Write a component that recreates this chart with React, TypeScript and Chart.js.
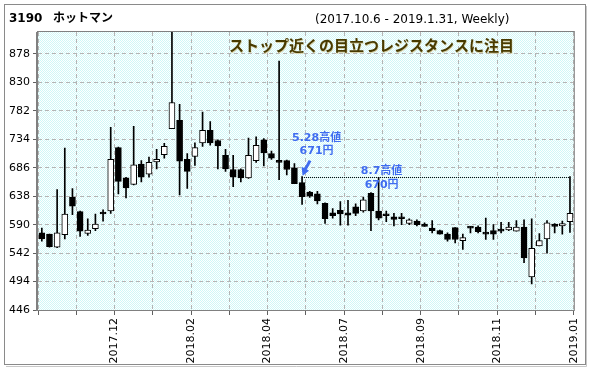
import React, { useEffect, useRef } from 'react';
import { Chart, registerables } from 'chart.js';
Chart.register(...registerables);

// Weekly OHLC, 2017.10.6 - 2019.1.31 (70 weeks)
const opens = [576, 574, 552, 573, 636, 612, 575, 583, 610, 613, 720, 669, 658, 692, 675, 696, 708, 752, 766, 700, 705, 728, 749, 732, 707, 683, 683, 669, 698, 733, 710, 697, 698, 686, 661, 645, 642, 626, 610, 614, 610, 620, 613, 643, 613, 608, 603, 602, 592, 596, 591, 584, 580, 574, 585, 563, 587, 586, 577, 580, 582, 581, 579, 586, 502, 554, 566, 591, 588, 595];
const highs = [584, 574, 649, 719, 651, 613, 600, 608, 615, 754, 721, 670, 756, 698, 704, 717, 727, 915, 793, 710, 728, 780, 764, 733, 717, 707, 684, 736, 738, 735, 714, 866, 699, 693, 671, 646, 646, 627, 617, 629, 631, 625, 636, 644, 670, 613, 609, 609, 600, 598, 593, 597, 581, 576, 585, 574, 587, 588, 601, 590, 594, 594, 597, 598, 600, 575, 597, 592, 596, 671];
const lows = [562, 552, 551, 566, 607, 570, 572, 580, 596, 609, 642, 635, 657, 662, 670, 684, 702, 752, 640, 651, 690, 722, 724, 684, 680, 654, 662, 668, 695, 689, 700, 666, 674, 659, 624, 636, 625, 592, 601, 589, 589, 605, 611, 580, 598, 595, 588, 590, 590, 588, 587, 576, 574, 562, 559, 548, 576, 576, 565, 565, 576, 580, 579, 526, 490, 554, 542, 576, 574, 577];
const closes = [566, 553, 576, 608, 621, 579, 581, 591, 608, 700, 663, 652, 691, 670, 695, 700, 722, 796, 697, 680, 720, 749, 728, 723, 684, 670, 669, 707, 724, 711, 702, 695, 683, 659, 637, 638, 630, 600, 605, 608, 606, 609, 632, 613, 601, 605, 599, 600, 598, 590, 587, 580, 574, 565, 565, 568, 584, 578, 574, 574, 579, 586, 586, 534, 550, 563, 593, 587, 592, 609];

const yTickValues = [446, 494, 542, 590, 638, 686, 734, 782, 830, 878];
const xLabelPositions = [10, 20, 30, 40, 50, 60, 70];
const xLabels = ['2017.12', '2018.02', '2018.04', '2018.07', '2018.09', '2018.11', '2019.01'];

const headerCode = '3190';
const headerName = 'ホットマン';
const headerRange = '(2017.10.6 - 2019.1.31, Weekly)';
const chartTitle = 'ストップ近くの目立つレジスタンスに注目';
const peak1Index = 34;
const peak1Value = 671;
const peak1Lines = ['5.28高値', '671円'];
const peak2Index = 44;
const peak2Value = 670;
const peak2Lines = ['8.7高値', '670円'];

function makePattern(): CanvasPattern | string {
  const c = document.createElement('canvas');
  c.width = 2; c.height = 2;
  const g = c.getContext('2d');
  if (!g) return '#e8fbfb';
  g.fillStyle = '#ffffff'; g.fillRect(0, 0, 2, 2);
  g.fillStyle = '#d0f7f7';
  g.fillRect(0, 0, 1, 1); g.fillRect(1, 1, 1, 1);
  const p = g.createPattern(c, 'repeat');
  return p || '#e8fbfb';
}

export default function App() {
  const ref = useRef<HTMLCanvasElement>(null);
  useEffect(() => {
    const canvas = ref.current;
    if (!canvas) return;
    const pattern = makePattern();
    const n = opens.length;
    const bodyColors = opens.map((o, i) => (closes[i] >= o ? '#ffffff' : '#000000'));

    const deco = {
      id: 'deco',
      beforeDraw(chart: any) {
        const { ctx, chartArea } = chart;
        ctx.save();
        ctx.fillStyle = '#ffffff';
        ctx.fillRect(0, 0, chart.width, chart.height);
        ctx.fillStyle = pattern;
        ctx.fillRect(chartArea.left, chartArea.top, chartArea.right - chartArea.left, chartArea.bottom - chartArea.top);
        ctx.restore();
      },
      afterDatasetsDraw(chart: any) {
        const { ctx, chartArea } = chart;
        const xs = chart.scales.x, ys = chart.scales.y;
        ctx.save();
        // plot border
        ctx.strokeStyle = '#808080';
        ctx.lineWidth = 1;
        ctx.strokeRect(chartArea.left - 0.5, chartArea.top - 0.5, chartArea.right - chartArea.left + 1, chartArea.bottom - chartArea.top + 1);
        ctx.beginPath();
        ctx.moveTo(chartArea.left - 1.5, chartArea.top);
        ctx.lineTo(chartArea.left - 1.5, chartArea.bottom + 1);
        ctx.stroke();

        // dotted resistance line
        const t1x = xs.getPixelForValue(peak1Index + 0.5);
        const t1y = ys.getPixelForValue(peak1Value);
        const endX = xs.getPixelForValue(n - 0.5);
        const ly = Math.round(t1y) + 0.5;
        ctx.strokeStyle = '#000000';
        ctx.setLineDash([1, 1]);
        ctx.beginPath();
        ctx.moveTo(t1x, ly);
        ctx.lineTo(endX, ly);
        ctx.stroke();
        ctx.setLineDash([]);

        // title
        ctx.font = 'bold 15px "Noto Sans CJK JP"';
        ctx.textAlign = 'center';
        ctx.textBaseline = 'middle';
        ctx.fillStyle = '#d6d0a8';
        ctx.fillText(chartTitle, 372, 46);
        ctx.fillStyle = '#483a00';
        ctx.fillText(chartTitle, 371.5, 45.5);

        // blue annotations
        const blue = '#3f6cf0';
        ctx.fillStyle = blue;
        ctx.textBaseline = 'alphabetic';
        ctx.font = 'bold 11px "DejaVu Sans", "Noto Sans CJK JP"';
        ctx.fillText(peak1Lines[0], t1x + 14.5, t1y - 35.5);
        ctx.fillText(peak1Lines[1], t1x + 14.5, t1y - 22.5);
        const t2x = xs.getPixelForValue(peak2Index + 0.5);
        const t2y = ys.getPixelForValue(peak2Value);
        ctx.fillText(peak2Lines[0], t2x + 3, t2y - 3);
        ctx.fillText(peak2Lines[1], t2x + 3, t2y + 10.5);

        // arrow
        ctx.strokeStyle = blue;
        ctx.lineWidth = 3;
        ctx.beginPath();
        ctx.moveTo(t1x + 8, t1y - 16);
        ctx.lineTo(t1x + 3, t1y - 7);
        ctx.stroke();
        ctx.beginPath();
        ctx.moveTo(t1x + 0.5, t1y - 1);
        ctx.lineTo(t1x - 0.5, t1y - 10);
        ctx.lineTo(t1x + 7, t1y - 6);
        ctx.closePath();
        ctx.fill();
        ctx.restore();
      },
      afterDraw(chart: any) {
        const { ctx } = chart;
        ctx.save();
        ctx.strokeStyle = '#8a8a8a';
        ctx.lineWidth = 1;
        ctx.strokeRect(4.5, 4.5, 581, 360);
        ctx.strokeStyle = '#c8c8c8';
        ctx.beginPath();
        ctx.moveTo(586.5, 6); ctx.lineTo(586.5, 366.5); ctx.lineTo(6, 366.5);
        ctx.stroke();
        ctx.fillStyle = '#000000';
        ctx.textAlign = 'left';
        ctx.textBaseline = 'alphabetic';
        ctx.font = 'bold 12px "DejaVu Sans"';
        ctx.fillText(headerCode, 9, 22);
        ctx.font = 'bold 12px "Noto Sans CJK JP"';
        ctx.fillText(headerName, 53, 22);
        ctx.font = '12px "DejaVu Sans"';
        ctx.fillText(headerRange, 315, 23);
        ctx.restore();
      },
    };

    const chart = new Chart(canvas, {
      type: 'bar',
      data: {
        datasets: [
          {
            label: 'body',
            data: opens.map((o, i) => ({ x: i + 0.5, y: [o, closes[i]] })) as any,
            backgroundColor: bodyColors,
            borderColor: '#000000',
            borderWidth: 1,
            borderSkipped: false,
            barThickness: 6,
            minBarLength: 2,
            grouped: false,
          } as any,
          {
            label: 'wick',
            data: highs.map((h, i) => ({ x: i + 0.5, y: [lows[i], h] })) as any,
            backgroundColor: '#000000',
            borderWidth: 0,
            barThickness: 1,
            grouped: false,
          } as any,
        ],
      },
      options: {
        responsive: false,
        animation: false,
        devicePixelRatio: 1,
        layout: { padding: { left: 0, top: 32, right: 12, bottom: 0 } },
        plugins: { legend: { display: false }, tooltip: { enabled: false }, title: { display: false } },
        scales: {
          x: {
            type: 'linear',
            min: 0,
            max: n,
            offset: false,
            afterBuildTicks: (s: any) => {
              const t: any[] = [];
              for (let v = 0; v <= n; v += 5) t.push({ value: v });
              s.ticks = t;
            },
            afterFit: (s: any) => { s.height = 61; },
            grid: { offset: false, color: '#b4b4b4', lineWidth: 1, drawTicks: true, tickLength: 5, tickColor: '#606060' },
            border: { display: false, dash: [4, 3] },
            ticks: {
              autoSkip: false,
              minRotation: 90,
              maxRotation: 90,
              padding: 3,
              color: '#000000',
              font: { family: 'DejaVu Sans', size: 11 },
              callback: (v: any) => {
                const k = xLabelPositions.indexOf(Number(v));
                return k >= 0 ? xLabels[k] : '';
              },
            },
          } as any,
          y: {
            type: 'linear',
            min: 446,
            max: 915,
            beginAtZero: false,
            afterBuildTicks: (s: any) => { s.ticks = yTickValues.map((v) => ({ value: v })); },
            afterFit: (s: any) => { s.width = 38; },
            grid: { color: '#b4b4b4', lineWidth: 1, drawTicks: true, tickLength: 5, tickColor: '#606060' },
            border: { display: false, dash: [4, 3] },
            ticks: {
              autoSkip: false,
              padding: 3,
              color: '#000000',
              font: { family: 'DejaVu Sans', size: 11 },
              callback: (v: any) => String(v),
            },
          } as any,
        },
      },
      plugins: [deco],
    });
    return () => chart.destroy();
  }, []);

  return (
    <div style={{ position: 'absolute', left: 0, top: 0, width: 590, height: 371 }}>
      <canvas ref={ref} width={590} height={371} style={{ display: 'block', width: 590, height: 371 }} />
    </div>
  );
}
